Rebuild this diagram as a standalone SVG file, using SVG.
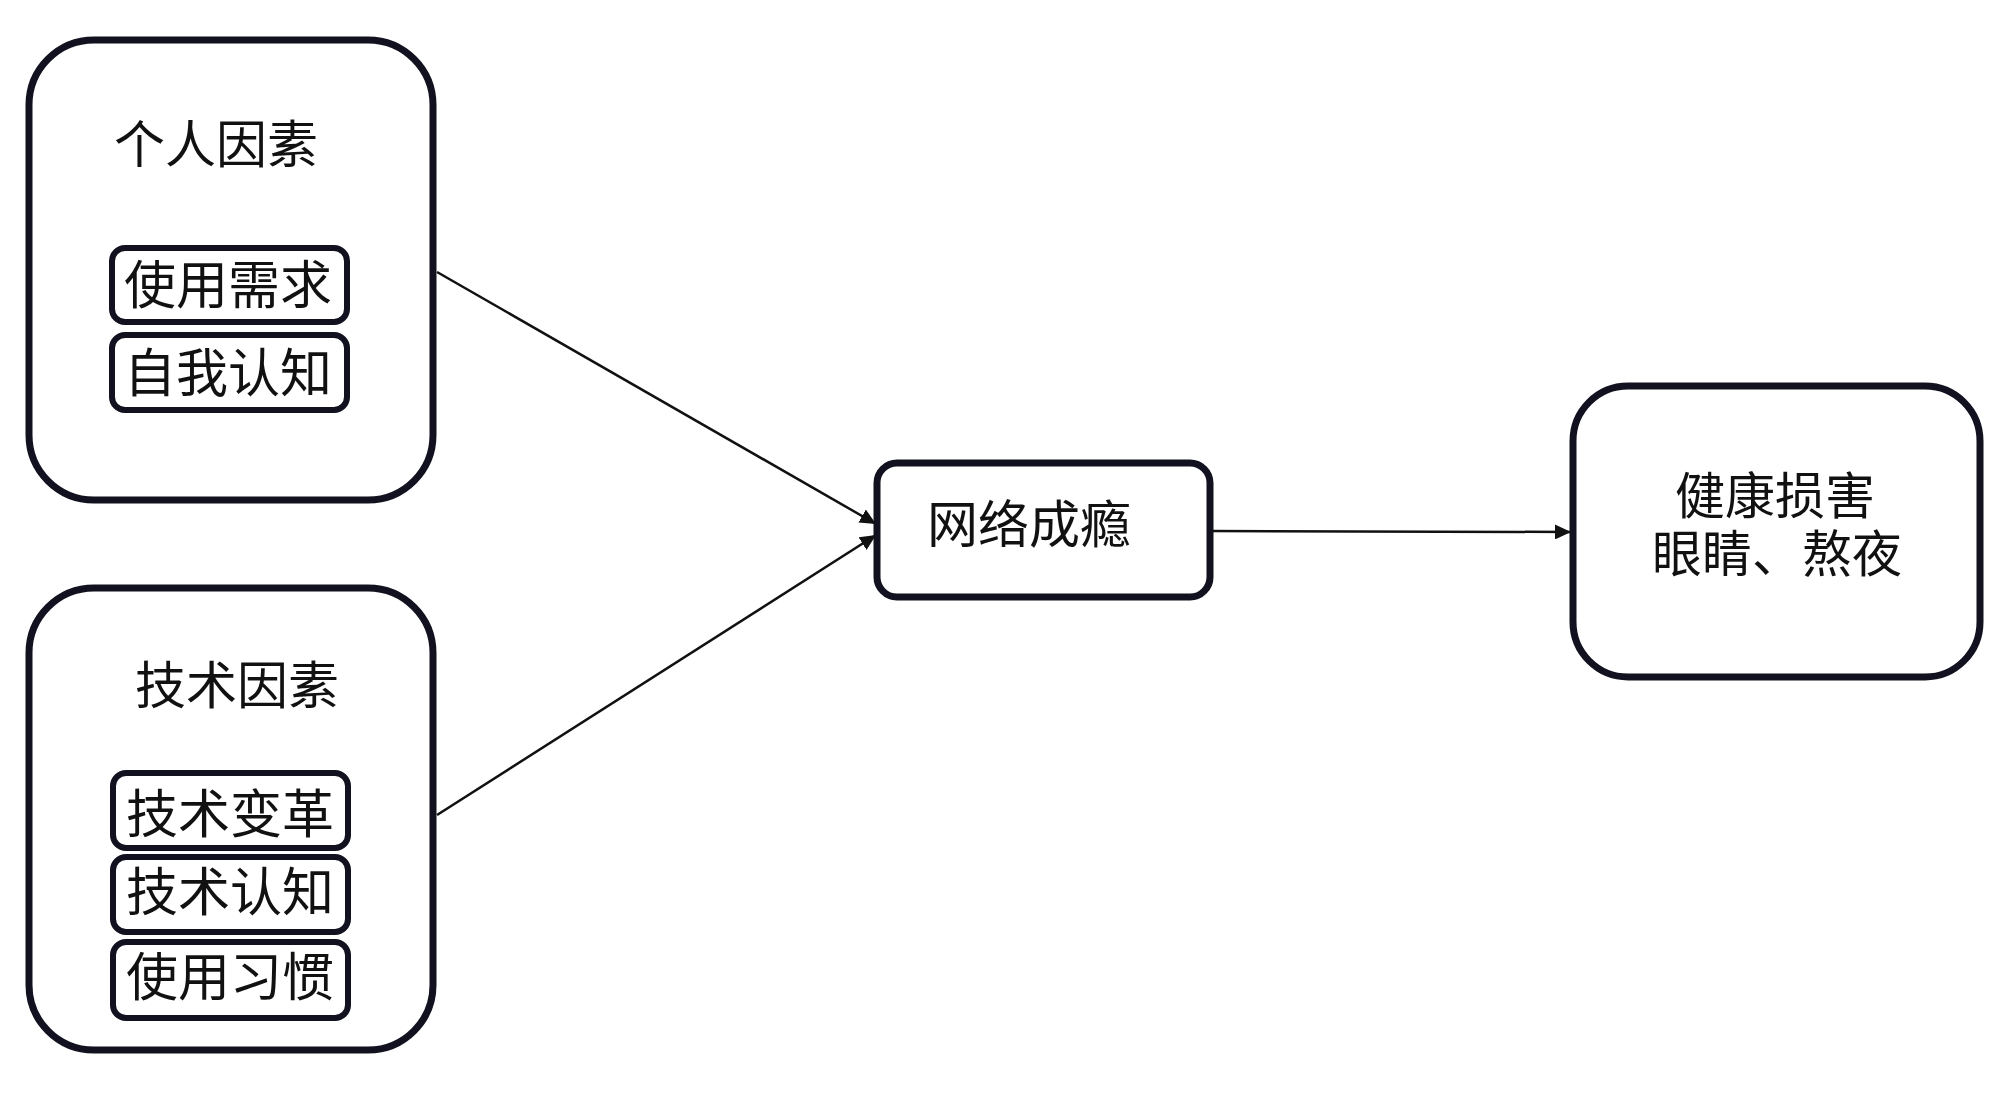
<svg xmlns="http://www.w3.org/2000/svg" width="2000" height="1101" viewBox="0 0 2000 1101">
<defs>
<style>
.outer{fill:#fff;stroke:#11111f;stroke-width:7}
.inner{fill:#fff;stroke:#11111f;stroke-width:6}
.t{font-family:"Noto Sans CJK SC","Noto Sans",sans-serif;fill:#111;text-anchor:middle}
.edge{stroke:#111;stroke-width:2.5;fill:none}
</style>
<marker id="arr" viewBox="0 0 10 10" refX="10" refY="5" markerWidth="16" markerHeight="15" markerUnits="userSpaceOnUse" orient="auto" preserveAspectRatio="none">
<path d="M0,0 L10,5 L0,10 Z" fill="#111"/>
</marker>
</defs>
<rect width="2000" height="1101" fill="#fff"/>
<g id="connectors">
<line class="edge" x1="437" y1="272" x2="876" y2="524" marker-end="url(#arr)"/>
<line class="edge" x1="437" y1="815" x2="876" y2="535" marker-end="url(#arr)"/>
<line class="edge" x1="1210" y1="531" x2="1571" y2="532" marker-end="url(#arr)"/>
</g>
<g id="personal">
<rect class="outer" x="29" y="40" width="404" height="460" rx="65"/>
<text class="t" x="216" y="163" font-size="51">个人因素</text>
<g id="need"><rect class="inner" x="112" y="248" width="235" height="74" rx="13"/><text class="t" x="228" y="304" font-size="52">使用需求</text></g>
<g id="selfcog"><rect class="inner" x="112" y="335" width="235" height="75" rx="13"/><text class="t" x="228" y="392" font-size="52">自我认知</text></g>
</g>
<g id="tech">
<rect class="outer" x="29" y="588" width="404" height="462" rx="65"/>
<text class="t" x="237" y="704" font-size="51">技术因素</text>
<g id="change"><rect class="inner" x="113" y="773" width="235" height="75" rx="13"/><text class="t" x="230" y="833" font-size="52">技术变革</text></g>
<g id="techcog"><rect class="inner" x="113" y="857" width="235" height="75" rx="13"/><text class="t" x="230" y="911" font-size="52">技术认知</text></g>
<g id="habit"><rect class="inner" x="113" y="942" width="235" height="76" rx="13"/><text class="t" x="230" y="996" font-size="52">使用习惯</text></g>
</g>
<g id="addiction">
<rect class="outer" x="877" y="463" width="333" height="134" rx="20"/>
<text class="t" x="1029" y="543" font-size="51">网络成瘾</text>
</g>
<g id="health">
<rect class="outer" x="1573" y="386" width="407" height="291" rx="55"/>
<text class="t" font-size="50"><tspan x="1775" y="514">健康损害</tspan><tspan x="1777" y="572">眼睛、熬夜</tspan></text>
</g>
</svg>
